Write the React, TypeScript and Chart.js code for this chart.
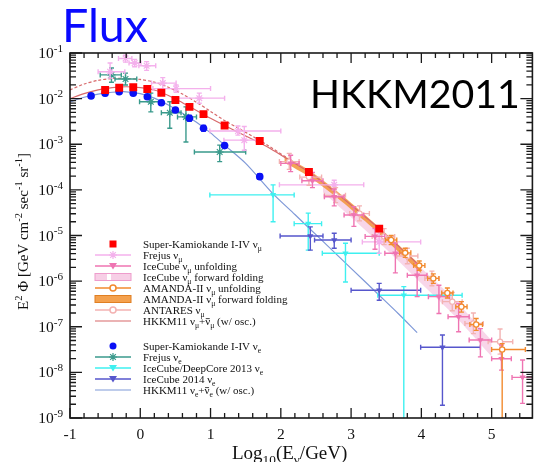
import React, { useEffect, useRef } from 'react';
import { Chart, registerables } from 'chart.js';

Chart.register(...registerables);

// ---------- axis ----------
const X_MIN = -1;
const X_MAX = 5.58;
const xTickVals = [-1, 0, 1, 2, 3, 4, 5];
const yTickExps = [-9, -8, -7, -6, -5, -4, -3, -2, -1];

// ---------- data: x = log10(E/GeV), values = log10(E^2 Phi) ----------
// Super-Kamiokande I-IV nu_mu
const skMuX = [-0.5, -0.3, -0.1, 0.1, 0.3, 0.5, 0.7, 0.9, 1.2, 1.7, 2.4, 3.4];
const skMuY = [-1.81, -1.76, -1.75, -1.79, -1.87, -2.03, -2.18, -2.34, -2.59, -2.93, -3.61, -4.85];
const skMuYLo = [-1.86, -1.80, -1.79, -1.83, -1.91, -2.07, -2.22, -2.38, -2.63, -2.97, -3.66, -4.91];
const skMuYHi = [-1.76, -1.72, -1.71, -1.75, -1.83, -1.99, -2.14, -2.30, -2.55, -2.89, -3.56, -4.79];

// Super-Kamiokande I-IV nu_e
const skEX = [-0.7, -0.5, -0.3, -0.1, 0.1, 0.3, 0.5, 0.7, 0.9, 1.2, 1.7];
const skEY = [-1.94, -1.88, -1.85, -1.88, -1.96, -2.09, -2.25, -2.43, -2.65, -3.03, -3.71];
const skEYLo = [-1.99, -1.93, -1.89, -1.92, -2.00, -2.13, -2.30, -2.49, -2.71, -3.08, -3.77];
const skEYHi = [-1.89, -1.83, -1.81, -1.84, -1.92, -2.05, -2.20, -2.37, -2.59, -2.98, -3.65];

// Frejus nu_mu
const frMuX = [-0.43, -0.21, -0.08, 0.09, 0.32, 0.51, 0.84, 1.39, 1.48, 2.76, 3.40];
const frMuY = [-1.41, -1.12, -1.22, -1.28, -1.66, -1.78, -1.99, -2.71, -2.91, -3.89, -5.14];
const frMuXLo = [-0.60, -0.31, -0.16, -0.02, 0.16, 0.18, 0.46, 0.99, 1.19, 1.98, 3.16];
const frMuXHi = [-0.22, -0.12, 0.01, 0.22, 0.51, 1.00, 1.20, 2.00, 1.65, 3.18, 3.99];
const frMuYLo = [-1.55, -1.20, -1.30, -1.38, -1.78, -1.86, -2.10, -2.80, -3.13, -4.00, -5.39];
const frMuYHi = [-1.22, -1.05, -1.14, -1.19, -1.54, -1.70, -1.88, -2.60, -2.61, -3.79, -4.92];

// Frejus nu_e
const frEX = [-0.41, -0.21, 0.15, 0.42, 0.65, 1.13];
const frEY = [-1.48, -1.57, -2.07, -2.31, -2.40, -3.17];
const frEXLo = [-0.57, -0.36, -0.01, 0.30, 0.53, 0.77];
const frEXHi = [-0.27, -0.05, 0.32, 0.58, 0.80, 1.50];
const frEYLo = [-1.64, -1.70, -2.29, -2.65, -2.95, -3.38];
const frEYHi = [-1.33, -1.44, -1.88, -2.07, -2.18, -3.02];

// IceCube nu_mu unfolding
const icMuX = [2.14, 2.45, 2.76, 3.04, 3.34, 3.63, 3.94, 4.25, 4.53, 4.84, 5.14, 5.44];
const icMuY = [-3.42, -3.80, -4.15, -4.55, -5.02, -5.39, -5.87, -6.34, -6.78, -7.29, -7.70, -8.11];
const icMuXLo = [2.00, 2.30, 2.62, 2.90, 3.20, 3.48, 3.80, 4.10, 4.38, 4.68, 5.00, 5.29];
const icMuXHi = [2.26, 2.60, 2.90, 3.18, 3.48, 3.78, 4.08, 4.40, 4.68, 5.00, 5.28, 5.60];
const icMuYLo = [-3.60, -3.95, -4.35, -4.80, -5.30, -5.82, -6.34, -6.71, -7.11, -7.66, -7.95, -8.68];
const icMuYHi = [-3.24, -3.62, -3.98, -4.37, -4.85, -5.17, -5.61, -6.09, -6.49, -7.04, -7.40, -7.73];

// IceCube nu_mu forward folding (band)
const icFFX = [2.6, 3.0, 3.5, 4.0, 4.5, 5.0];
const icFFHi = [-3.85, -4.35, -5.0, -5.72, -6.45, -7.3];
const icFFLo = [-4.05, -4.6, -5.3, -6.05, -6.8, -7.65];

// AMANDA-II nu_mu unfolding
const amX = [3.57, 3.77, 3.97, 4.17, 4.37, 4.57, 4.78, 5.15];
const amY = [-5.10, -5.38, -5.66, -5.94, -6.26, -6.56, -6.95, -7.50];
const amXLo = [3.49, 3.69, 3.89, 4.09, 4.29, 4.49, 4.69, 5.00];
const amXHi = [3.65, 3.85, 4.05, 4.25, 4.45, 4.65, 4.87, 5.48];
const amYLo = [-5.20, -5.48, -5.76, -6.05, -6.37, -6.68, -7.08, -10];
const amYHi = [-5.00, -5.28, -5.56, -5.84, -6.15, -6.45, -6.82, -7.37];

// AMANDA-II nu_mu forward folding (band)
const amFFX = [2.05, 2.4, 2.8, 3.2, 3.6, 4.0];
const amFFHi = [-3.26, -3.57, -4.03, -4.55, -5.10, -5.67];
const amFFLo = [-3.40, -3.71, -4.17, -4.69, -5.25, -5.83];

// ANTARES nu_mu
const anX = [2.12, 2.40, 2.78, 3.12, 3.47, 3.80, 4.15, 4.44, 4.74, 5.12];
const anY = [-3.38, -3.72, -4.12, -4.52, -5.02, -5.45, -5.94, -6.45, -6.93, -7.33];
const anXLo = [1.98, 2.27, 2.62, 2.98, 3.30, 3.65, 4.05, 4.30, 4.62, 4.95];
const anXHi = [2.26, 2.58, 2.92, 3.26, 3.62, 3.95, 4.25, 4.58, 4.88, 5.30];
const anYLo = [-3.55, -3.90, -4.28, -4.68, -5.20, -5.62, -6.10, -6.65, -7.15, -7.60];
const anYHi = [-3.20, -3.55, -3.95, -4.35, -4.85, -5.28, -5.78, -6.25, -6.70, -7.05];

// IceCube/DeepCore 2013 nu_e
const dcX = [1.89, 2.39, 2.92, 3.75];
const dcY = [-4.11, -4.74, -5.39, -6.31];
const dcXLo = [0.99, 2.19, 2.59, 3.38];
const dcXHi = [2.19, 2.58, 3.40, 4.58];
const dcYLo = [-4.70, -5.32, -6.02, -10];
const dcYHi = [-3.89, -4.51, -5.17, -6.12];

// IceCube 2014 nu_e
const ic14X = [2.42, 2.76, 3.40, 4.30];
const ic14Y = [-5.01, -5.10, -6.20, -7.45];
const ic14XLo = [1.99, 2.48, 3.00, 3.99];
const ic14XHi = [2.60, 3.00, 3.99, 4.84];
const ic14YLo = [-5.32, -5.28, -6.42, -8.72];
const ic14YHi = [-4.81, -4.95, -6.05, -7.18];

// HKKM11 nu_mu + anti-nu_mu (w/ osc.)
const hkMuX = [-1, -0.8, -0.6, -0.4, -0.2, 0, 0.2, 0.4, 0.6, 0.8, 1.0, 1.2, 1.5, 1.8, 2.1, 2.4, 2.7, 3.0, 3.4, 3.7, 4.0];
const hkMuY = [-2.0, -1.89, -1.81, -1.76, -1.74, -1.76, -1.81, -1.93, -2.09, -2.26, -2.43, -2.59, -2.82, -3.05, -3.33, -3.61, -3.96, -4.33, -4.85, -5.27, -5.70];
// HKKM11 nu_mu (dashed)
const hkMu2X = [-1, -0.8, -0.6, -0.4, -0.2, 0, 0.2, 0.4, 0.6, 0.8, 1.0, 1.2, 1.5, 1.8, 2.1];
const hkMu2Y = [-1.81, -1.68, -1.60, -1.56, -1.56, -1.58, -1.64, -1.75, -1.90, -2.08, -2.28, -2.48, -2.74, -3.01, -3.31];
// HKKM11 nu_e + anti-nu_e (w/ osc.)
const hkEX = [-1, -0.8, -0.6, -0.4, -0.2, 0, 0.2, 0.4, 0.6, 0.8, 1.0, 1.2, 1.5, 1.88, 2.2, 2.6, 3.0, 3.4, 3.67, 3.94];
const hkEY = [-2.07, -1.97, -1.90, -1.86, -1.85, -1.89, -1.99, -2.14, -2.32, -2.52, -2.75, -3.02, -3.42, -4.07, -4.54, -5.13, -5.72, -6.31, -6.71, -7.13];

// ---------- colours ----------
const C = {
  skMu: '#ff0000',
  skE: '#0a10f5',
  frMu: '#f4b0ec',
  frE: '#3a9a8c',
  icMu: '#ef74b2',
  icFF: 'rgba(244,186,218,0.6)',
  am: '#f28a2e',
  amFF: 'rgba(242,148,58,0.85)',
  an: '#f3b2b2',
  hkMu: '#d8696b',
  dc: '#3ef0f0',
  ic14: '#5656cc',
  hkE: '#7f99d8',
};

const pts = (xs: number[], ls: number[]) => xs.map((x, i) => ({ x, y: Math.pow(10, ls[i]) }));

// kind: 0 normal, 1 superscript, -1 subscript, 2 normal with overbar
type Seg = [string, number];
const SERIF = '"Liberation Serif", "Times New Roman", serif';

function drawRich(ctx: CanvasRenderingContext2D, segs: Seg[], x: number, y: number, size: number, family: string, supScale = 0.7) {
  let cx = x;
  for (const [t, k] of segs) {
    const s = k === 0 || k === 2 ? size : size * supScale;
    ctx.font = `${s}px ${family}`;
    const dy = k === 1 ? -size * 0.4 : k === -1 ? size * 0.28 : 0;
    ctx.fillText(t, cx, y + dy);
    const w = ctx.measureText(t).width;
    if (k === 2) {
      const sw = ctx.lineWidth;
      const ss = ctx.strokeStyle;
      ctx.strokeStyle = ctx.fillStyle as string;
      ctx.lineWidth = Math.max(0.8, size * 0.07);
      ctx.beginPath();
      ctx.moveTo(cx + w * 0.1, y - size * 0.58);
      ctx.lineTo(cx + w * 0.9, y - size * 0.58);
      ctx.stroke();
      ctx.lineWidth = sw;
      ctx.strokeStyle = ss;
    }
    cx += w;
  }
  return cx - x;
}
function richWidth(ctx: CanvasRenderingContext2D, segs: Seg[], size: number, family: string, supScale = 0.7) {
  let w = 0;
  for (const [t, k] of segs) {
    ctx.font = `${k === 0 || k === 2 ? size : size * supScale}px ${family}`;
    w += ctx.measureText(t).width;
  }
  return w;
}

const LEGEND: { segs: Seg[]; sym: string; color: string; group: number }[] = [
  { segs: [['Super-Kamiokande I-IV ν', 0], ['μ', -1]], sym: 'square', color: C.skMu, group: 0 },
  { segs: [['Frejus ν', 0], ['μ', -1]], sym: 'lineStar', color: C.frMu, group: 0 },
  { segs: [['IceCube ν', 0], ['μ', -1], [' unfolding', 0]], sym: 'lineTri', color: C.icMu, group: 0 },
  { segs: [['IceCube ν', 0], ['μ', -1], [' forward folding', 0]], sym: 'boxPink', color: C.icMu, group: 0 },
  { segs: [['AMANDA-II ν', 0], ['μ', -1], [' unfolding', 0]], sym: 'lineOpen', color: C.am, group: 0 },
  { segs: [['AMANDA-II ν', 0], ['μ', -1], [' forward folding', 0]], sym: 'boxOrange', color: C.am, group: 0 },
  { segs: [['ANTARES ν', 0], ['μ', -1]], sym: 'lineOpen', color: C.an, group: 0 },
  { segs: [['HKKM11 ν', 0], ['μ', -1], ['+', 0], ['ν', 2], ['μ', -1], [' (w/ osc.)', 0]], sym: 'line', color: C.hkMu, group: 0 },
  { segs: [['Super-Kamiokande I-IV ν', 0], ['e', -1]], sym: 'circle', color: C.skE, group: 1 },
  { segs: [['Frejus ν', 0], ['e', -1]], sym: 'lineStar', color: C.frE, group: 1 },
  { segs: [['IceCube/DeepCore 2013 ν', 0], ['e', -1]], sym: 'lineTri', color: C.dc, group: 1 },
  { segs: [['IceCube 2014 ν', 0], ['e', -1]], sym: 'lineTri', color: C.ic14, group: 1 },
  { segs: [['HKKM11 ν', 0], ['e', -1], ['+', 0], ['ν', 2], ['e', -1], [' (w/ osc.)', 0]], sym: 'line', color: C.hkE, group: 1 },
];

const errorBarPlugin = {
  id: 'errbars',
  beforeDatasetDraw(chart: any, args: any) {
    const ds: any = chart.data.datasets[args.index];
    const e = ds.err;
    if (!e) return;
    const { ctx, chartArea: a } = chart;
    const xs = chart.scales.x, ys = chart.scales.y;
    ctx.save();
    ctx.beginPath();
    ctx.rect(a.left, a.top, a.right - a.left, a.bottom - a.top);
    ctx.clip();
    ctx.strokeStyle = e.color;
    ctx.lineWidth = e.width ?? 1.4;
    const cap = e.cap ?? 2.5;
    ds.data.forEach((p: any, i: number) => {
      const px = xs.getPixelForValue(p.x), py = ys.getPixelForValue(p.y);
      ctx.beginPath();
      if (e.xLo) {
        const x0 = xs.getPixelForValue(e.xLo[i]), x1 = xs.getPixelForValue(e.xHi[i]);
        ctx.moveTo(x0, py); ctx.lineTo(x1, py);
        ctx.moveTo(x0, py - cap); ctx.lineTo(x0, py + cap);
        ctx.moveTo(x1, py - cap); ctx.lineTo(x1, py + cap);
      }
      if (e.yLo) {
        const y0 = ys.getPixelForValue(Math.pow(10, e.yLo[i])), y1 = ys.getPixelForValue(Math.pow(10, e.yHi[i]));
        ctx.moveTo(px, y0); ctx.lineTo(px, y1);
        ctx.moveTo(px - cap, y0); ctx.lineTo(px + cap, y0);
        ctx.moveTo(px - cap, y1); ctx.lineTo(px + cap, y1);
      }
      ctx.stroke();
    });
    ctx.restore();
  },
};

function drawSym(ctx: CanvasRenderingContext2D, sym: string, color: string, cx: number, cy: number) {
  const x0 = cx - 18, x1 = cx + 18;
  ctx.save();
  ctx.strokeStyle = color;
  ctx.fillStyle = color;
  ctx.lineWidth = 1.5;
  const line = () => { ctx.beginPath(); ctx.moveTo(x0, cy); ctx.lineTo(x1, cy); ctx.stroke(); };
  if (sym === 'square') {
    ctx.fillRect(cx - 3.5, cy - 3.5, 7, 7);
  } else if (sym === 'circle') {
    ctx.beginPath(); ctx.arc(cx, cy, 3.5, 0, Math.PI * 2); ctx.fill();
  } else if (sym === 'line') {
    ctx.lineWidth = 1.2; line();
  } else if (sym === 'lineStar') {
    line();
    ctx.lineWidth = 1.2;
    ctx.beginPath();
    for (let k = 0; k < 4; k++) {
      const ang = (k * Math.PI) / 4;
      ctx.moveTo(cx - 4 * Math.cos(ang), cy - 4 * Math.sin(ang));
      ctx.lineTo(cx + 4 * Math.cos(ang), cy + 4 * Math.sin(ang));
    }
    ctx.stroke();
  } else if (sym === 'lineTri') {
    line();
    ctx.beginPath(); ctx.moveTo(cx - 4, cy - 3); ctx.lineTo(cx + 4, cy - 3); ctx.lineTo(cx, cy + 3.5); ctx.closePath(); ctx.fill();
  } else if (sym === 'lineOpen') {
    line();
    ctx.fillStyle = '#fff';
    ctx.beginPath(); ctx.arc(cx, cy, 3, 0, Math.PI * 2); ctx.fill(); ctx.stroke();
  } else if (sym === 'boxPink') {
    ctx.fillStyle = '#f7cfe6';
    ctx.fillRect(x0, cy - 3.5, 36, 7);
    ctx.strokeStyle = '#ee9ccc';
    ctx.lineWidth = 1;
    ctx.strokeRect(x0, cy - 3.5, 36, 7);
    ctx.fillStyle = '#fff';
    ctx.fillRect(cx - 6, cy - 3, 4, 6);
  } else if (sym === 'boxOrange') {
    ctx.fillStyle = '#f4a14e';
    ctx.fillRect(x0, cy - 3.5, 36, 7);
    ctx.strokeStyle = '#e07f22';
    ctx.lineWidth = 1;
    ctx.strokeRect(x0, cy - 3.5, 36, 7);
  }
  ctx.restore();
}

const decorPlugin = {
  id: 'decor',
  afterDraw(chart: any) {
    const { ctx, chartArea: a } = chart;
    const xs = chart.scales.x, ys = chart.scales.y;
    ctx.save();
    // frame
    ctx.strokeStyle = '#1a1a1a';
    ctx.lineWidth = 1.6;
    ctx.strokeRect(a.left, a.top, a.right - a.left, a.bottom - a.top);
    // x ticks (inward, bottom and top)
    ctx.lineWidth = 1.3;
    ctx.beginPath();
    for (let i = 0; i <= 33; i++) {
      const v = X_MIN + i * 0.2;
      if (v > X_MAX + 1e-6) break;
      const px = xs.getPixelForValue(v);
      const len = i % 5 === 0 ? 10 : 5;
      ctx.moveTo(px, a.bottom); ctx.lineTo(px, a.bottom - len);
      ctx.moveTo(px, a.top); ctx.lineTo(px, a.top + len);
    }
    // y ticks (log, inward, left and right)
    for (let e = -9; e <= -1; e++) {
      for (let m = 1; m <= 9; m++) {
        if (e === -1 && m > 1) break;
        const py = ys.getPixelForValue(m * Math.pow(10, e));
        const len = m === 1 ? 12 : 6;
        ctx.moveTo(a.left, py); ctx.lineTo(a.left + len, py);
        ctx.moveTo(a.right, py); ctx.lineTo(a.right - len, py);
      }
    }
    ctx.stroke();

    ctx.fillStyle = '#111';
    ctx.textBaseline = 'alphabetic';
    ctx.textAlign = 'left';

    // y tick labels 10^n
    yTickExps.forEach((e) => {
      const py = ys.getPixelForValue(Math.pow(10, e));
      const segs: Seg[] = [['10', 0], [String(e), 1]];
      const w = richWidth(ctx, segs, 15.5, SERIF, 0.72);
      drawRich(ctx, segs, a.left - 7 - w, py + 5, 15.5, SERIF, 0.72);
    });

    // axis titles
    const yTitle: Seg[] = [['E', 0], ['2', 1], [' Φ [GeV cm', 0], ['-2', 1], [' sec', 0], ['-1', 1], [' sr', 0], ['-1', 1], [']', 0]];
    const ysz = 15;
    const yw = richWidth(ctx, yTitle, ysz, SERIF);
    ctx.save();
    ctx.translate(22, (a.top + a.bottom) / 2 - 4);
    ctx.rotate(-Math.PI / 2);
    drawRich(ctx, yTitle, -yw / 2, 6, ysz, SERIF);
    ctx.restore();
    const xTitle: Seg[] = [['Log', 0], ['10', -1], ['(E', 0], ['ν', -1], ['/GeV)', 0]];
    drawRich(ctx, xTitle, 232, 459, 19, SERIF);

    // legend
    LEGEND.forEach((row, i) => {
      const idx = row.group === 0 ? i : i - 8;
      const cy = a.top + (row.group === 0 ? 191 : 293) + idx * 11;
      drawSym(ctx, row.sym, row.color, a.left + 43, cy);
      ctx.fillStyle = '#111';
      drawRich(ctx, row.segs, a.left + 73, cy + 4, 11, SERIF);
    });

    // big labels
    ctx.fillStyle = '#0a0aff';
    ctx.font = '100px Lato';
    let s = (100 * 86) / ctx.measureText('Flux').width;
    ctx.font = `${s}px Lato`;
    ctx.fillText('Flux', 62, 42);
    ctx.fillStyle = '#000';
    ctx.font = '100px Lato';
    s = (100 * 210) / ctx.measureText('HKKM2011').width;
    ctx.font = `${s}px Lato`;
    ctx.fillText('HKKM2011', 310, 108);
    ctx.restore();
  },
};

export default function App() {
  const ref = useRef<HTMLCanvasElement>(null);
  useEffect(() => {
    const pointSet = (label: string, xs: number[], ys: number[], style: any, err: any) => ({
      label,
      data: pts(xs, ys),
      showLine: false,
      err,
      ...style,
    });
    const lineSet = (label: string, xs: number[], ys: number[], color: string, extra: any = {}) => ({
      label,
      data: pts(xs, ys),
      showLine: true,
      pointRadius: 0,
      borderColor: color,
      backgroundColor: color,
      borderWidth: 1.2,
      tension: 0.3,
      fill: false,
      ...extra,
    });
    const datasets: any[] = [
      pointSet('Super-Kamiokande I-IV nu_mu', skMuX, skMuY,
        { pointStyle: 'rect', pointRadius: 5.6, backgroundColor: C.skMu, borderColor: C.skMu, borderWidth: 0 },
        { yLo: skMuYLo, yHi: skMuYHi, color: C.skMu }),
      pointSet('Super-Kamiokande I-IV nu_e', skEX, skEY,
        { pointStyle: 'circle', pointRadius: 3.8, backgroundColor: C.skE, borderColor: C.skE, borderWidth: 0 },
        { yLo: skEYLo, yHi: skEYHi, color: C.skE }),
      pointSet('AMANDA-II nu_mu unfolding', amX, amY,
        { pointStyle: 'circle', pointRadius: 2.6, backgroundColor: '#fff', borderColor: C.am, borderWidth: 1.3 },
        { xLo: amXLo, xHi: amXHi, yLo: amYLo, yHi: amYHi, color: C.am }),
      pointSet('IceCube nu_mu unfolding', icMuX, icMuY,
        { pointStyle: 'triangle', rotation: 180, pointRadius: 3.6, backgroundColor: C.icMu, borderColor: C.icMu, borderWidth: 0 },
        { xLo: icMuXLo, xHi: icMuXHi, yLo: icMuYLo, yHi: icMuYHi, color: C.icMu }),
      pointSet('ANTARES nu_mu', anX, anY,
        { pointStyle: 'circle', pointRadius: 2.6, backgroundColor: '#fff', borderColor: C.an, borderWidth: 1.2 },
        { xLo: anXLo, xHi: anXHi, yLo: anYLo, yHi: anYHi, color: C.an }),
      pointSet('Frejus nu_mu', frMuX, frMuY,
        { pointStyle: 'star', pointRadius: 4, backgroundColor: C.frMu, borderColor: C.frMu, borderWidth: 1.2 },
        { xLo: frMuXLo, xHi: frMuXHi, yLo: frMuYLo, yHi: frMuYHi, color: C.frMu }),
      pointSet('Frejus nu_e', frEX, frEY,
        { pointStyle: 'star', pointRadius: 4, backgroundColor: C.frE, borderColor: C.frE, borderWidth: 1.2 },
        { xLo: frEXLo, xHi: frEXHi, yLo: frEYLo, yHi: frEYHi, color: C.frE }),
      pointSet('IceCube 2014 nu_e', ic14X, ic14Y,
        { pointStyle: 'triangle', rotation: 180, pointRadius: 3.6, backgroundColor: C.ic14, borderColor: C.ic14, borderWidth: 0 },
        { xLo: ic14XLo, xHi: ic14XHi, yLo: ic14YLo, yHi: ic14YHi, color: C.ic14 }),
      pointSet('IceCube/DeepCore 2013 nu_e', dcX, dcY,
        { pointStyle: 'triangle', rotation: 180, pointRadius: 3.6, backgroundColor: C.dc, borderColor: C.dc, borderWidth: 0 },
        { xLo: dcXLo, xHi: dcXHi, yLo: dcYLo, yHi: dcYHi, color: C.dc }),
      lineSet('HKKM11 nu_mu (w/ osc.)', hkMuX, hkMuY, C.hkMu),
      lineSet('HKKM11 nu_mu (dashed)', hkMu2X, hkMu2Y, C.hkMu, { borderDash: [3, 2] }),
      lineSet('HKKM11 nu_e (w/ osc.)', hkEX, hkEY, C.hkE),
      lineSet('AMANDA-II FF upper', amFFX, amFFHi, C.amFF, { borderWidth: 0, fill: '+1', backgroundColor: C.amFF }),
      lineSet('AMANDA-II FF lower', amFFX, amFFLo, C.amFF, { borderWidth: 0 }),
      lineSet('IceCube FF upper', icFFX, icFFHi, C.icFF, { borderWidth: 0, fill: '+1', backgroundColor: C.icFF }),
      lineSet('IceCube FF lower', icFFX, icFFLo, C.icFF, { borderWidth: 0 }),
    ];

    const chart = new Chart(ref.current as HTMLCanvasElement, {
      type: 'scatter',
      data: { datasets },
      options: {
        animation: false,
        responsive: true,
        maintainAspectRatio: false,
        events: [],
        layout: { padding: { left: 0, top: 53, right: 4, bottom: 0 } },
        plugins: { legend: { display: false }, tooltip: { enabled: false } },
        scales: {
          x: {
            type: 'linear',
            min: X_MIN,
            max: X_MAX,
            grid: { display: false, drawTicks: false },
            border: { display: false },
            afterBuildTicks: (scale: any) => { scale.ticks = xTickVals.map((v) => ({ value: v })); },
            afterFit: (scale: any) => { scale.height = 44; },
            ticks: {
              autoSkip: false,
              maxRotation: 0,
              padding: 8,
              color: '#111',
              font: { family: SERIF, size: 15.5 },
              callback: (v: any) => String(v),
            },
          },
          y: {
            type: 'logarithmic',
            min: 1e-9,
            max: 1e-1,
            grid: { display: false, drawTicks: false },
            border: { display: false },
            afterBuildTicks: (scale: any) => { scale.ticks = yTickExps.map((e) => ({ value: Math.pow(10, e) })); },
            afterFit: (scale: any) => { scale.width = 70; },
            ticks: { display: false },
          },
        },
      } as any,
      plugins: [errorBarPlugin, decorPlugin],
    });
    return () => chart.destroy();
  }, []);
  return (
    <div style={{ position: 'absolute', left: 0, top: 0, width: 538, height: 462, background: '#fff' }}>
      <canvas ref={ref} />
    </div>
  );
}
